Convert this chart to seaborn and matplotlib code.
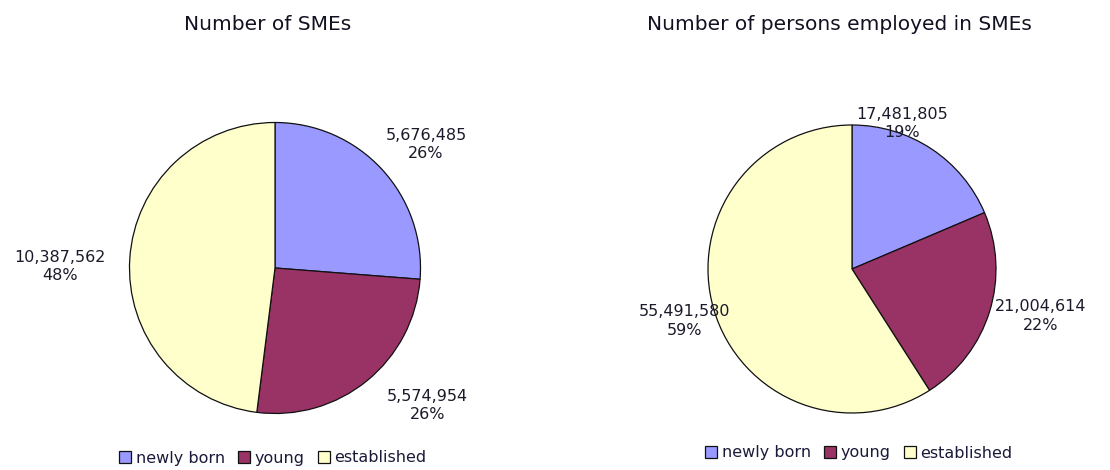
import numpy as np
import matplotlib
matplotlib.use("Agg")
import matplotlib.pyplot as plt
import seaborn as sns

categories = ["newly born", "young", "established"]
smes_values = [5676485, 5574954, 10387562]
persons_values = [17481805, 21004614, 55491580]
titles = ["Number of SMEs", "Number of persons employed in SMEs"]

colors = ["#9999FF", "#993366", "#FFFFCC"]

sns.set_style("white")
plt.rcParams['font.family'] = ['DejaVu Sans']

W, H = 1110, 470
fig = plt.figure(figsize=(W / 100, H / 100), dpi=100)

# layout (pixels): pie centre, radius; label placement (radius units, angle nudge)
layouts = [
    dict(cx=275, cy=268, r=145.5, dist=[1.34, 1.41, 1.48], nudge=[-3.5, 8.8, 3.2],
         title_xy=(268, 25), legend_xy=(273, 458)),
    dict(cx=852, cy=269, r=144, dist=[1.07, 1.35, 1.22], nudge=[14.5, 3.2, 1.0],
         title_xy=(839, 25), legend_xy=(859, 453)),
]

lim = 1.1
for values, title, lay in zip([smes_values, persons_values], titles, layouts):
    size = 2 * lim * lay["r"]
    ax = fig.add_axes([(lay["cx"] - size / 2) / W, (H - lay["cy"] - size / 2) / H,
                       size / W, size / H])
    wedges, _ = ax.pie(values, colors=colors, startangle=90, counterclock=False,
                       wedgeprops=dict(edgecolor="#111111", linewidth=0.9))
    ax.set_xlim(-lim, lim)
    ax.set_ylim(-lim, lim)
    ax.set_aspect("equal")
    ax.axis("off")
    total = sum(values)
    for w, v, d, nd in zip(wedges, values, lay["dist"], lay["nudge"]):
        th = np.deg2rad((w.theta1 + w.theta2) / 2 + nd)
        ax.text(d * np.cos(th), d * np.sin(th), f"{v:,}\n{round(100 * v / total):.0f}%",
                ha="center", va="center", fontsize=11.5, color="#1a1a2a",
                linespacing=1.3, clip_on=False)
    fig.text(lay["title_xy"][0] / W, 1 - lay["title_xy"][1] / H, title,
             ha="center", va="center", fontsize=14.5, color="#111122")
    fig.legend(wedges, categories, loc="center",
               bbox_to_anchor=(lay["legend_xy"][0] / W, 1 - lay["legend_xy"][1] / H),
               ncol=3, frameon=False, fontsize=11.5, handlelength=0.75, handleheight=0.75,
               handletextpad=0.3, columnspacing=0.8, borderpad=0,
               labelcolor="#1a1a3a")

fig.savefig("out.png", dpi=100, facecolor="white")
